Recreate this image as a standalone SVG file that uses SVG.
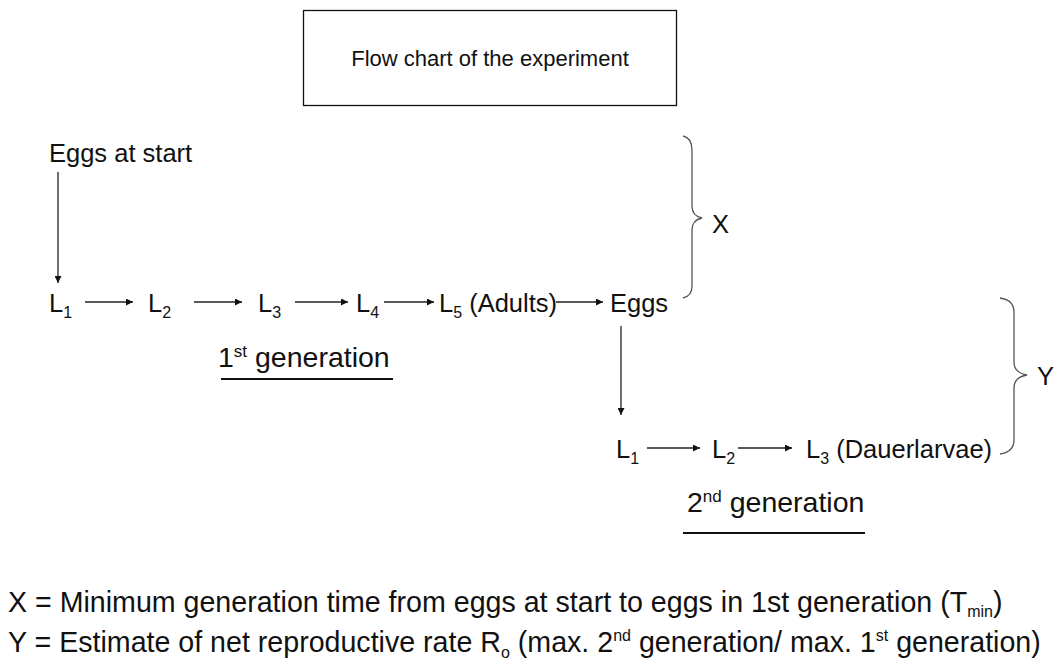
<svg xmlns="http://www.w3.org/2000/svg" width="1055" height="662" viewBox="0 0 1055 662">
<defs>
<marker id="ah" viewBox="0 0 10 10" refX="10" refY="5" markerWidth="8" markerHeight="7" markerUnits="userSpaceOnUse" orient="auto">
<path d="M0,0 L10,5 L0,10 z" fill="#111"/>
</marker>
<style>
text{font-family:"Liberation Sans",Arial,sans-serif;fill:#111;}
.t{font-size:25.5px;}
.gen{font-size:28.5px;}
.title{font-size:22px;}
.foot{font-size:28.6px;}
.sub{font-size:16px;}
.sup{font-size:17px;}
.conn line{stroke:#222;stroke-width:1.3;marker-end:url(#ah);}
.brace{fill:none;stroke:#555;stroke-width:1.3;}
</style>
</defs>
<rect width="1055" height="662" fill="#fff"/>
<g id="title">
<rect x="303.5" y="10.5" width="373" height="95" fill="none" stroke="#111" stroke-width="1.3"/>
<text class="title" x="490" y="66" text-anchor="middle">Flow chart of the experiment</text>
</g>
<g id="eggs-start"><text class="t" x="49" y="162">Eggs at start</text></g>
<g id="g1-L1"><text class="t" x="49" y="312">L<tspan class="sub" dy="6">1</tspan></text></g>
<g id="g1-L2"><text class="t" x="148" y="312">L<tspan class="sub" dy="6">2</tspan></text></g>
<g id="g1-L3"><text class="t" x="258" y="312">L<tspan class="sub" dy="6">3</tspan></text></g>
<g id="g1-L4"><text class="t" x="356" y="312">L<tspan class="sub" dy="6">4</tspan></text></g>
<g id="g1-L5"><text class="t" x="439" y="312">L<tspan class="sub" dy="6">5</tspan><tspan dy="-6"> (Adults)</tspan></text></g>
<g id="g1-eggs"><text class="t" x="610" y="312">Eggs</text></g>
<g id="gen1"><text class="gen" x="218" y="367">1<tspan class="sup" dy="-10">st</tspan><tspan dy="10"> generation</tspan></text>
<line x1="221" y1="379" x2="393" y2="379" stroke="#111" stroke-width="2"/></g>
<g id="g2-L1"><text class="t" x="616" y="458">L<tspan class="sub" dy="6">1</tspan></text></g>
<g id="g2-L2"><text class="t" x="712" y="458">L<tspan class="sub" dy="6">2</tspan></text></g>
<g id="g2-L3"><text class="t" x="806" y="458">L<tspan class="sub" dy="6">3</tspan><tspan dy="-6"> (Dauerlarvae)</tspan></text></g>
<g id="gen2"><text class="gen" x="687" y="512">2<tspan class="sup" dy="-10">nd</tspan><tspan dy="10"> generation</tspan></text>
<line x1="683" y1="533" x2="865" y2="533" stroke="#111" stroke-width="2"/></g>
<g id="brace-x">
<path class="brace" d="M683,136 Q692,138 692,150 L692,206 Q692,216 702,218 Q692,220 692,230 L692,286 Q692,296 683,298"/>
<text class="t" x="712" y="233">X</text>
</g>
<g id="brace-y">
<path class="brace" d="M1000,298 Q1014,300 1014,312 L1014,362 Q1014,373 1027,375 Q1014,377 1014,388 L1014,440 Q1014,452 1000,454"/>
<text class="t" x="1037" y="385">Y</text>
</g>
<g class="conn" id="connectors">
<line x1="58" y1="172" x2="58" y2="283"/>
<line x1="85" y1="302" x2="133" y2="302"/>
<line x1="194" y1="302" x2="242" y2="302"/>
<line x1="295" y1="302" x2="348" y2="302"/>
<line x1="384" y1="302" x2="434" y2="302"/>
<line x1="556" y1="302" x2="603" y2="302"/>
<line x1="621" y1="326" x2="621" y2="415"/>
<line x1="647" y1="448" x2="700" y2="448"/>
<line x1="738" y1="448" x2="792" y2="448"/>
</g>
<g id="legend">
<text class="foot" x="8" y="612">X = Minimum generation time from eggs at start to eggs in 1st generation (T<tspan font-size="16" dy="5">min</tspan><tspan dy="-5">)</tspan></text>
<text class="foot" x="8" y="652" font-size="28.2">Y = Estimate of net reproductive rate R<tspan font-size="16" dy="6">o</tspan><tspan dy="-6"> (max. 2</tspan><tspan font-size="16" dy="-11">nd</tspan><tspan dy="11"> generation/ max. 1</tspan><tspan font-size="16" dy="-11">st</tspan><tspan dy="11"> generation)</tspan></text>
</g>
</svg>
